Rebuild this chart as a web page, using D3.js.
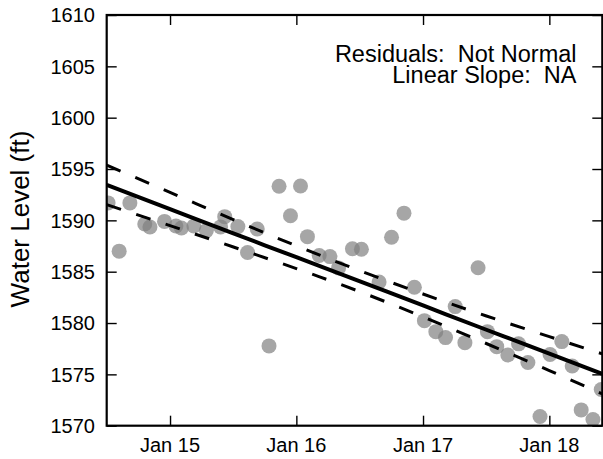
<!DOCTYPE html>
<html lang="en">

<head>
  <meta charset="UTF-8">
  <title>water level</title>
  <script src="https://cdn.jsdelivr.net/npm/d3@7"></script>
  <style>
    body { margin: 0; background: #fff; }
    text { font-family: "Liberation Sans", Arial, sans-serif; fill: #000; }
  </style>
</head>

<body>
  <svg width="603" height="459"></svg>
  <script>
    // observed water levels (date, ft)
    var obsDates = ['2014-07-06', '2014-08-07', '2014-09-07', '2014-10-20', '2014-11-04', '2014-12-16',
      '2015-01-18', '2015-02-03', '2015-03-11', '2015-04-16', '2015-05-27', '2015-06-08', '2015-07-16',
      '2015-08-13', '2015-09-10', '2015-10-14', '2015-11-12', '2015-12-15', '2016-01-13', '2016-02-02',
      '2016-03-07', '2016-04-07', '2016-05-02', '2016-06-11', '2016-07-07', '2016-08-27', '2016-10-02',
      '2016-11-07', '2016-12-07', '2017-01-05', '2017-02-07', '2017-03-07', '2017-04-04', '2017-05-02',
      '2017-06-09', '2017-07-06', '2017-08-02', '2017-09-03', '2017-10-04', '2017-10-31', '2017-12-05',
      '2018-01-03', '2018-02-06', '2018-03-08', '2018-04-03', '2018-05-07', '2018-05-31']
    var obsLevels = [1591.7, 1587.0, 1591.7, 1589.65, 1589.35, 1589.9,
      1589.45, 1589.26, 1589.45, 1589.0, 1589.36, 1590.36, 1589.39,
      1586.87, 1589.16, 1577.77, 1593.32, 1590.45, 1593.35, 1588.41,
      1586.58, 1586.47, 1585.37, 1587.24, 1587.19, 1584.0, 1588.35,
      1590.7, 1583.49, 1580.23, 1579.16, 1578.58, 1581.6, 1578.09,
      1585.39, 1579.16, 1577.7, 1576.89, 1577.97, 1576.16, 1570.89,
      1576.94, 1578.19, 1575.82, 1571.54, 1570.6, 1573.53]

    // fitted trend and confidence band
    var fitDates = ['2014-07-02', '2015-01-01', '2015-07-01', '2016-01-01', '2016-07-01',
      '2017-01-01', '2017-07-01', '2018-01-01', '2018-06-03']
    var fitLevels = [1593.45, 1591.10, 1588.76, 1586.41, 1584.09, 1581.71, 1579.37, 1577.02, 1575.05]
    var bandHalf = [1.92, 1.62, 1.33, 1.11, 1.02, 1.12, 1.34, 1.65, 1.95]

    var xTicks = ['2015-01-01', '2016-01-01', '2017-01-01', '2018-01-01']
    var yTicks = [1570, 1575, 1580, 1585, 1590, 1595, 1600, 1605, 1610]
    var notes = ['Residuals:  Not Normal', 'Linear Slope:  NA']

    var parse = d3.timeParse('%Y-%m-%d')
    var svg = d3.select('svg')
    var pLeft = 106.7, pRight = 602.3, pTop = 15, pBottom = 425.7

    var x = d3.scaleTime()
      .domain([parse('2014-07-02'), parse('2018-06-03')])
      .range([pLeft, pRight])
    var y = d3.scaleLinear()
      .domain([1570, 1610])
      .range([pBottom, pTop])

    svg.append('clipPath').attr('id', 'plot')
      .append('rect')
      .attr('x', pLeft).attr('y', pTop)
      .attr('width', pRight - pLeft).attr('height', pBottom - pTop)

    var g = svg.append('g').attr('clip-path', 'url(#plot)')

    var obs = obsDates.map((d, i) => ({ date: parse(d), level: obsLevels[i] }))
    g.selectAll('circle')
      .data(obs)
      .enter()
      .append('circle')
      .attr('cx', d => x(d.date))
      .attr('cy', d => y(d.level))
      .attr('r', 7.5)
      .attr('fill', '#808080')
      .attr('fill-opacity', 0.7)

    var fit = fitDates.map((d, i) => ({ date: parse(d), level: fitLevels[i], half: bandHalf[i] }))
    var line = d3.line().x(d => x(d.date)).curve(d3.curveNatural)

    g.append('path')
      .attr('d', line.y(d => y(d.level + d.half))(fit))
      .attr('fill', 'none').attr('stroke', '#000')
      .attr('stroke-width', 3).attr('stroke-dasharray', '15,16')
    g.append('path')
      .attr('d', line.y(d => y(d.level - d.half))(fit))
      .attr('fill', 'none').attr('stroke', '#000')
      .attr('stroke-width', 3).attr('stroke-dasharray', '15,16')
    g.append('path')
      .attr('d', line.y(d => y(d.level))(fit))
      .attr('fill', 'none').attr('stroke', '#000')
      .attr('stroke-width', 4)

    // axes, ticks pointing inward on all four sides
    var fmt = d3.timeFormat('%b %y')
    var xt = xTicks.map(parse)

    svg.append('g')
      .attr('transform', `translate(0,${pBottom})`)
      .call(d3.axisTop(x).tickValues(xt).tickSize(10).tickFormat(''))
    svg.append('g')
      .attr('transform', `translate(0,${pTop})`)
      .call(d3.axisBottom(x).tickValues(xt).tickSize(10).tickFormat(''))
    svg.append('g')
      .attr('transform', `translate(${pLeft},0)`)
      .call(d3.axisRight(y).tickValues(yTicks).tickSize(10).tickFormat(''))
    svg.append('g')
      .attr('transform', `translate(${pRight},0)`)
      .call(d3.axisLeft(y).tickValues(yTicks).tickSize(10).tickFormat(''))

    svg.selectAll('.domain').remove()
    svg.selectAll('.tick line').attr('stroke', '#000').attr('stroke-width', 1.4)

    svg.append('rect')
      .attr('x', pLeft).attr('y', pTop)
      .attr('width', pRight - pLeft).attr('height', pBottom - pTop)
      .attr('fill', 'none').attr('stroke', '#000').attr('stroke-width', 2.2)

    svg.append('g')
      .selectAll('text')
      .data(xt)
      .enter()
      .append('text')
      .attr('x', d => x(d))
      .attr('y', 451.5)
      .attr('text-anchor', 'middle')
      .style('font-size', '20px')
      .text(d => fmt(d))

    svg.append('g')
      .selectAll('text')
      .data(yTicks)
      .enter()
      .append('text')
      .attr('x', 95)
      .attr('y', d => y(d))
      .attr('dy', '0.36em')
      .attr('text-anchor', 'end')
      .style('font-size', '20px')
      .text(d => d)

    svg.append('text')
      .attr('transform', 'translate(29,219) rotate(-90)')
      .attr('text-anchor', 'middle')
      .style('font-size', '26px')
      .text('Water Level (ft)')

    svg.append('g')
      .selectAll('text')
      .data(notes)
      .enter()
      .append('text')
      .attr('x', 576.5)
      .attr('y', (d, i) => 61.5 + i * 21.5)
      .attr('text-anchor', 'end')
      .attr('xml:space', 'preserve')
      .style('white-space', 'pre')
      .style('font-size', '23.5px')
      .text(d => d)
  </script>
</body>

</html>
